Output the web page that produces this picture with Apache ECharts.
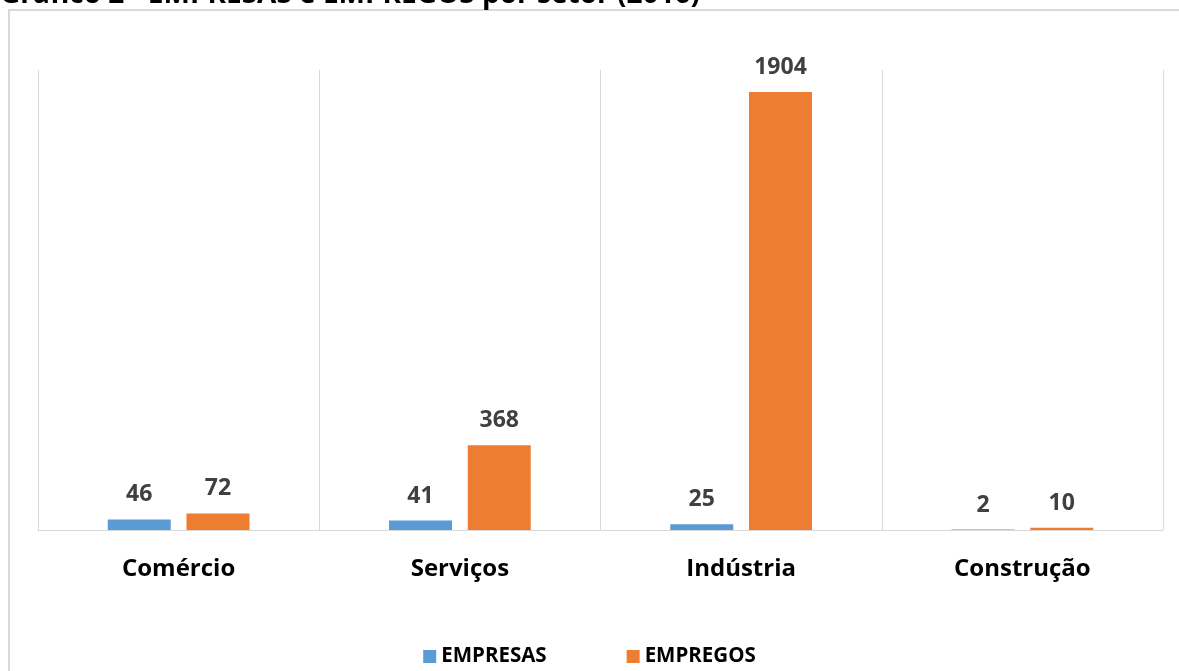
<!DOCTYPE html>
<html><head><meta charset="utf-8">
<script src="https://cdn.jsdelivr.net/npm/echarts@6/dist/echarts.min.js"></script>
<style>html,body{margin:0;padding:0;background:#fff}#c{width:1179px;height:671px}</style>
</head><body><div id="c"></div>
<script>
const categories = ['Comércio', 'Serviços', 'Indústria', 'Construção'];
const empresas = [46, 41, 25, 2];
const empregos = [72, 368, 1904, 10];
const titleText = 'Gráfico 2 - EMPRESAS e EMPREGOS por setor (2016)';

const chart = echarts.init(document.getElementById('c'));
const font = '"Open Sans", "Liberation Sans", sans-serif';
const lbl = {show: true, position: 'top', distance: 13, fontFamily: font, fontWeight: 'bold', fontSize: 23, color: '#404040'};
chart.setOption({
  animation: false,
  backgroundColor: '#fff',
  graphic: [
    {type: 'rect', shape: {x: 9, y: 10, width: 1200, height: 700}, style: {fill: 'none', stroke: '#d9d9d9', lineWidth: 2}, z: -1},
    {type: 'text', x: 0, y: 9, style: {text: titleText, fontFamily: font, fontWeight: 'bold', fontSize: 28, fill: '#000', textVerticalAlign: 'bottom'}}
  ],
  grid: {left: 38, right: 16, top: 70, bottom: 141},
  legend: {
    top: 641, left: 'center', itemWidth: 13, itemHeight: 13, itemGap: 80, icon: 'rect',
    textStyle: {fontFamily: font, fontWeight: 'bold', fontSize: 20.5, color: '#000'},
    data: ['EMPRESAS', 'EMPREGOS']
  },
  xAxis: {
    type: 'category', data: categories,
    axisLine: {lineStyle: {color: '#d9d9d9', width: 1}},
    axisTick: {show: false},
    splitLine: {show: true, lineStyle: {color: '#d9d9d9', width: 1}},
    axisLabel: {fontFamily: font, fontWeight: 'bold', fontSize: 24, color: '#000', margin: 27}
  },
  yAxis: {type: 'value', min: 0, max: 2000, show: false, splitLine: {show: false}},
  series: [
    {name: 'EMPRESAS', type: 'bar', data: empresas, barWidth: 63, barGap: '25%', itemStyle: {color: '#5b9bd5'}, label: lbl},
    {name: 'EMPREGOS', type: 'bar', data: empregos, barWidth: 63, barGap: '25%', itemStyle: {color: '#ed7d31'}, label: lbl}
  ]
});
</script></body></html>
